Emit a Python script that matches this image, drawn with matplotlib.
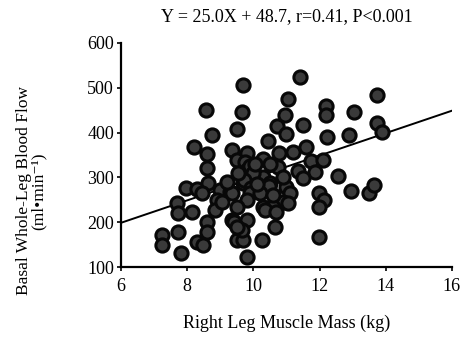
import numpy as np
import matplotlib.pyplot as plt

plt.rcParams['font.family'] = ['Liberation Serif', 'DejaVu Serif']

# right leg muscle mass (kg) and basal whole-leg blood flow (ml/min)
muscle_mass = [
    9.7, 11.42, 8.58, 9.67, 11.06, 12.2, 12.2, 10.97, 13.73, 13.03,
    13.73, 13.9, 9.5, 8.76, 10.7, 11.5, 11.0, 12.24, 12.88, 10.45,
    8.2, 8.6, 8.6, 9.36, 9.5, 9.8, 9.76, 10.3, 10.76, 11.2,
    11.58, 11.73, 12.12, 9.8, 10.15, 10.73, 11.36, 11.85, 12.55, 9.82,
    10.3, 9.9, 10.0, 10.5, 7.95, 8.3, 8.64, 9.0, 9.3, 9.7,
    10.5, 9.72, 9.94, 10.48, 11.0, 11.1, 11.5, 11.97, 12.15, 12.94,
    13.5, 13.64, 9.36, 9.9, 8.9, 7.7, 9.8, 10.9, 11.06, 7.73,
    8.15, 8.85, 8.6, 9.5, 9.36, 10.3, 10.6, 11.97, 10.36, 10.67,
    9.4, 9.8, 7.25, 7.25, 7.8, 7.73, 8.3, 8.48, 8.6, 9.6,
    9.5, 9.7, 9.8, 10.27, 10.64, 11.97, 9.67, 9.5, 9.2, 9.55,
    10.05, 10.2, 10.6, 8.45, 10.9, 10.1, 9.05,
]
blood_flow = [
    507, 525, 450, 446, 475, 460, 440, 439, 484, 446,
    421, 401, 408, 395, 414, 417, 397, 390, 394, 381,
    368, 352, 322, 362, 339, 355, 334, 340, 354, 356,
    368, 337, 338, 316, 301, 323, 314, 312, 303, 301,
    301, 325, 310, 330, 277, 275, 287, 272, 267, 287,
    287, 294, 276, 281, 278, 265, 298, 265, 250, 270,
    265, 283, 265, 265, 250, 243, 250, 245, 243, 220,
    223, 227, 200, 234, 205, 234, 234, 234, 227, 223,
    200, 205, 172, 150, 131, 178, 156, 150, 178, 183,
    160, 160, 122, 160, 189, 167, 183, 189, 290, 310,
    330, 265, 260, 265, 300, 285, 245,
]

slope = 25.0
intercept = 48.7
x_ticks = [6, 8, 10, 12, 14, 16]
y_ticks = [100, 200, 300, 400, 500, 600]

fig = plt.figure(figsize=(4.62, 3.38), dpi=100)
ax = fig.add_axes([0.262, 0.21, 0.716, 0.663])

ax.plot(muscle_mass, blood_flow, 'o', markersize=9.5,
        markerfacecolor='#3a3a3a', markeredgecolor='#080808',
        markeredgewidth=2.2, zorder=3)

line_x = np.array([6, 16])
ax.plot(line_x, slope * line_x + intercept, color='black', linewidth=1.4, zorder=2)

ax.set_xlim(6, 16)
ax.set_ylim(100, 600)
ax.set_xticks(x_ticks)
ax.set_yticks(y_ticks)
ax.tick_params(labelsize=13, length=3, width=1.2, direction='out')
ax.tick_params(axis='x', pad=5)
ax.tick_params(axis='y', pad=2)
for side in ['top', 'right']:
    ax.spines[side].set_visible(False)
for side in ['left', 'bottom']:
    ax.spines[side].set_linewidth(1.6)

ax.set_xlabel('Right Leg Muscle Mass (kg)', fontsize=13, labelpad=14)
ax.set_ylabel('Basal Whole-Leg Blood Flow\n(ml\u2022min\u207b\u00b9)', fontsize=12.5,
              linespacing=0.85)
ax.yaxis.set_label_coords(-0.225, 0.34)
ax.set_title('Y = 25.0X + 48.7, r=0.41, P<0.001', fontsize=13, pad=16)

fig.savefig('out.png', dpi=100)
